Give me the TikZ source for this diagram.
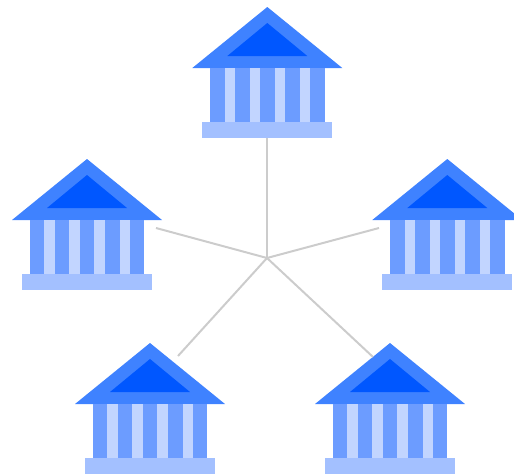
\documentclass[tikz,border=0pt]{standalone}
\definecolor{roof}{HTML}{3F82FF}
\definecolor{gable}{HTML}{0057FF}
\definecolor{body}{HTML}{6C9CFF}
\definecolor{column}{HTML}{C2D5FF}
\definecolor{plinth}{HTML}{A3C0FF}
\definecolor{spoke}{HTML}{CCCCCC}
\tikzset{
  spokeline/.style={draw=spoke,line width=2pt},
  pics/bank/.style={code={
    \fill[roof] (0,0) -- (75,61) -- (-75,61) -- cycle;
    \fill[gable] (0,16) -- (40,49) -- (-40,49) -- cycle;
    \fill[body] (-57.3,61) rectangle (57.4,115);
    \foreach \cx in {-42.6,-17.6,7.4,32.7}
      \fill[column] (\cx,61) rectangle ++(10.3,54);
    \fill[plinth] (-65,115) rectangle (65,130.7);
  }}
}
\begin{document}
\begin{tikzpicture}[x=1pt,y=-1pt]
\useasboundingbox (0,0) rectangle (514,474);
\clip (0,0) rectangle (514,474);
\coordinate (hub) at (267,258);
\coordinate (endtop) at (267,138);
\coordinate (endleft) at (156,228);
\coordinate (endright) at (379,228);
\coordinate (endbl) at (178,356);
\coordinate (endbr) at (373,357);
\pic at (267.3,7) {bank};
\pic at (87,159) {bank};
\pic at (447.3,159) {bank};
\pic at (150,343) {bank};
\pic at (390,343) {bank};
\foreach \e in {endtop,endleft,endright,endbl,endbr}
  \draw[spokeline] (hub) -- (\e);
\end{tikzpicture}
\end{document}
